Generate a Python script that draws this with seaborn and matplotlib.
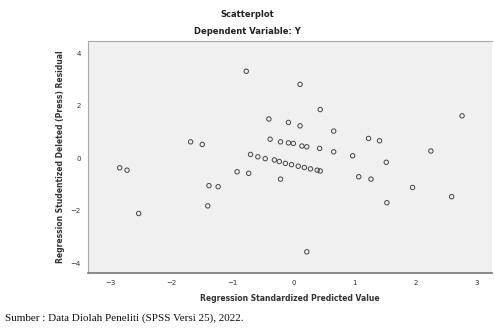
import numpy as np
import pandas as pd
import matplotlib
matplotlib.use("Agg")
import matplotlib.pyplot as plt
import seaborn as sns

# ── Data ────────────────────────────────────────────────
zpred = [-2.84, -2.72, -2.53, -1.68, -1.49, -1.38, -1.23, -1.40,
         -0.92, -0.73, -0.77,
         -0.70, -0.58, -0.46, -0.31, -0.23, -0.13, -0.03, 0.08, 0.18, 0.28, 0.39, 0.44,
         -0.40, -0.38, -0.21, -0.08, 0.00, -0.08, 0.11, 0.11, 0.14, 0.22,
         -0.21, 0.22, 0.44, 0.43, 0.66, 0.66, 0.97, 1.07, 1.27, 1.23, 1.41,
         1.52, 1.53, 1.95, 2.25, 2.59, 2.76]
sdresid = [-0.37, -0.46, -2.11, 0.62, 0.52, -1.05, -1.09, -1.82,
           -0.52, -0.58, 3.31,
           0.14, 0.05, -0.02, -0.07, -0.13, -0.20, -0.25, -0.31, -0.36, -0.41, -0.46, -0.49,
           1.49, 0.72, 0.62, 0.58, 0.56, 1.36, 2.81, 1.23, 0.46, 0.43,
           -0.80, -3.57, 1.85, 0.37, 1.03, 0.24, 0.09, -0.71, -0.80, 0.75, 0.66,
           -0.16, -1.70, -1.12, 0.27, -1.47, 1.61]

x_ticks = [-3, -2, -1, 0, 1, 2, 3]
y_ticks = [-4, -2, 0, 2, 4]

df = pd.DataFrame({"zpred": zpred, "sdresid": sdresid})

sns.set_style("white")
plt.rcParams["font.family"] = ["DejaVu Sans"]

fig = plt.figure(figsize=(4.94, 3.31), dpi=100)
ax = fig.add_axes([0.178, 0.175, 0.818, 0.701])
ax.set_facecolor("#f0f0f0")

# ── Puntos ──────────────────────────────────────────────
sns.scatterplot(data=df, x="zpred", y="sdresid", ax=ax, s=10,
                facecolor="none", edgecolor="#444444", linewidth=0.7)

ax.set_xlim(-3.36, 3.25)
ax.set_ylim(-4.38, 4.46)
ax.set_xticks(x_ticks)
ax.set_yticks(y_ticks)
ax.tick_params(axis="both", labelsize=5, length=3, width=0.6, color="#555555",
               labelcolor="#333333", pad=2)

for side in ["left", "top"]:
    ax.spines[side].set_color("#aaaaaa")
    ax.spines[side].set_linewidth(0.8)
ax.spines["right"].set_visible(False)
ax.spines["bottom"].set_color("#777777")
ax.spines["bottom"].set_linewidth(1.2)

ax.set_xlabel("Regression Standardized Predicted Value", fontsize=5.5,
              fontweight="bold", color="#333333", labelpad=6)
ax.set_ylabel("Regression Studentized Deleted (Press) Residual", fontsize=5.5,
              fontweight="bold", color="#333333", labelpad=4)

# ── Títulos y fuente ────────────────────────────────────
fig.text(0.5, 0.955, "Scatterplot", ha="center", va="center",
         fontsize=6, fontweight="bold", color="#222222")
fig.text(0.5, 0.905, "Dependent Variable: Y", ha="center", va="center",
         fontsize=6, fontweight="bold", color="#222222")
fig.text(0.01, 0.04, "Sumber : Data Diolah Peneliti (SPSS Versi 25), 2022.",
         ha="left", va="center", fontsize=8, family=["Liberation Serif"],
         color="#111111")

fig.savefig("out.png", dpi=100)
